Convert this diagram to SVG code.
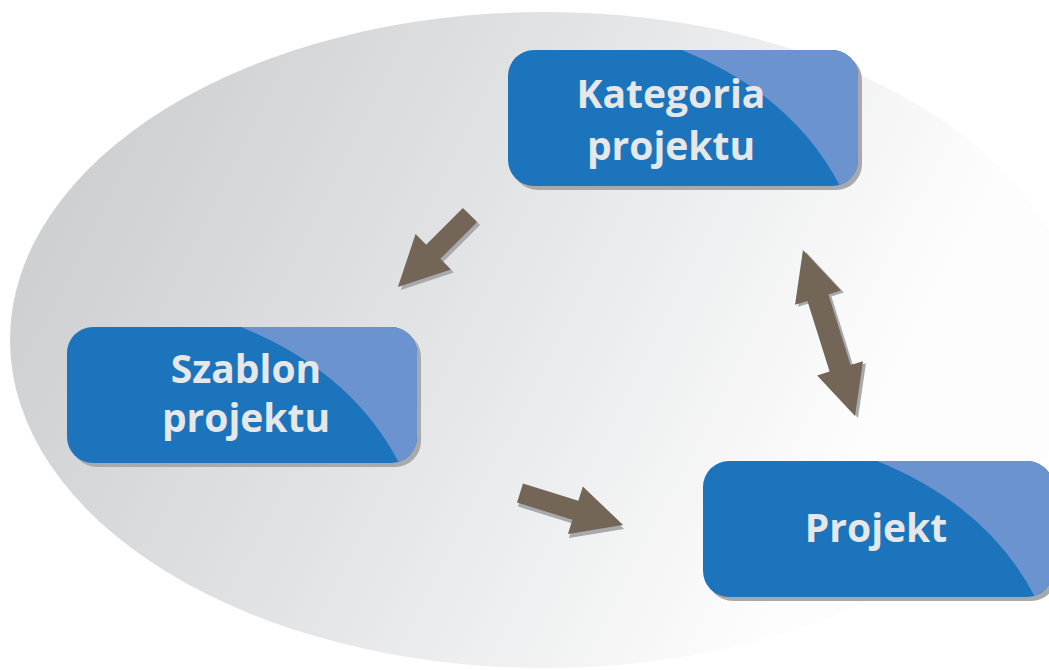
<svg xmlns="http://www.w3.org/2000/svg" width="1049" height="670" viewBox="0 0 1049 670">
<defs>
<linearGradient id="bg" gradientUnits="userSpaceOnUse" x1="100" y1="150" x2="820" y2="520">
<stop offset="0" stop-color="#cfd0d2"/>
<stop offset="0.45" stop-color="#e2e3e5"/>
<stop offset="1" stop-color="#fdfdfd"/>
</linearGradient>
<clipPath id="bc"><rect width="350" height="136" rx="26"/></clipPath>
<style>
.sh{fill:#a7a9ac}
.box{fill:#1c75bc}
.hl{fill:#6b93cf}
.lbl{font-family:"Open Sans","Liberation Sans",sans-serif;font-weight:bold;font-size:39px;fill:#e6e7e8;text-anchor:middle}
.arr{fill:#736657}
.ash{fill:#a7a9ac}
</style>
<path id="a1" d="M0,-10 L52,-10 L52,-25 L102,0 L52,25 L52,10 L0,10 Z"/>
<path id="a3" d="M0,-10 L58,-10 L58,-25 L108,0 L58,25 L58,10 L0,10 Z"/>
<path id="a2" d="M0,-87 L24,-37 L11,-37 L11,37 L24,37 L0,87 L-24,37 L-11,37 L-11,-37 L-24,-37 Z"/>
</defs>
<ellipse cx="545" cy="340" rx="535" ry="328" fill="url(#bg)"/>
<g id="connectors">
<g transform="translate(473,218) rotate(135)"><use href="#a1" class="ash"/></g>
<g transform="translate(470,215) rotate(135)"><use href="#a1" class="arr"/></g>
<g transform="translate(832,335) rotate(-17.4)"><use href="#a2" class="ash"/></g>
<g transform="translate(829,333) rotate(-17.4)"><use href="#a2" class="arr"/></g>
<g transform="translate(521,497) rotate(17.3)"><use href="#a3" class="ash"/></g>
<g transform="translate(520,493) rotate(17.3)"><use href="#a3" class="arr"/></g>
</g>
<g id="kategoria" transform="translate(508,50)">
<rect x="4" y="4" width="350" height="136" rx="26" class="sh"/>
<rect width="350" height="136" rx="26" class="box"/>
<path d="M174,0 Q285,45 332,136 L350,136 L350,0 Z" class="hl" clip-path="url(#bc)"/>
<text class="lbl" x="163" y="58">Kategoria</text>
<text class="lbl" x="163" y="110">projektu</text>
</g>
<g id="szablon" transform="translate(67,327)">
<rect x="4" y="4" width="350" height="136" rx="26" class="sh"/>
<rect width="350" height="136" rx="26" class="box"/>
<path d="M174,0 Q285,45 332,136 L350,136 L350,0 Z" class="hl" clip-path="url(#bc)"/>
<text class="lbl" x="179" y="56">Szablon</text>
<text class="lbl" x="179" y="105">projektu</text>
</g>
<g id="projekt" transform="translate(703,461)">
<rect x="4" y="4" width="350" height="136" rx="26" class="sh"/>
<rect width="350" height="136" rx="26" class="box"/>
<path d="M174,0 Q285,45 332,136 L350,136 L350,0 Z" class="hl" clip-path="url(#bc)"/>
<text class="lbl" x="173" y="81">Projekt</text>
</g>
</svg>
